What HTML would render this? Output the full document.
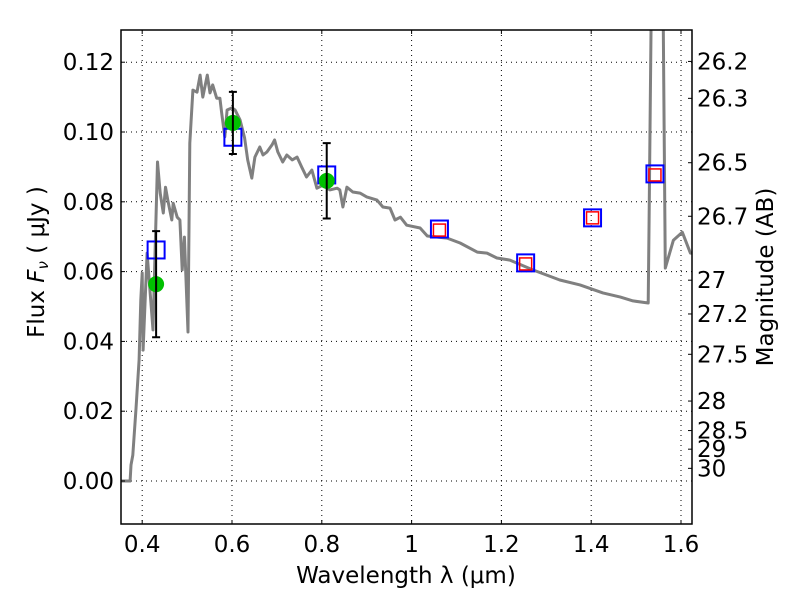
<!DOCTYPE html>
<html><head><meta charset="utf-8">
<style>
html,body{margin:0;padding:0;background:#fff;}
svg{display:block;font-family:"DejaVu Sans","Liberation Sans",sans-serif;}
</style></head>
<body>
<svg id="chart" width="800" height="600" viewBox="0 0 800 600" xmlns="http://www.w3.org/2000/svg">
<defs><clipPath id="plotclip"><rect x="121" y="30" width="571" height="494"/></clipPath></defs>
<rect x="0" y="0" width="800" height="600" fill="#fff"/>
<g id="grid"></g>
<g id="marks" clip-path="url(#plotclip)"></g>
<g id="axes"></g>
</svg>
<script>
const specWave = [0.354,0.373,0.375,0.379,0.386,0.393,0.397,0.400,0.402,0.411,0.424,0.434,0.440,0.447,0.452,0.457,0.466,0.469,0.478,0.484,0.489,0.494,0.502,0.506,0.513,0.522,0.529,0.535,0.545,0.551,0.557,0.566,0.573,0.577,0.584,0.589,0.600,0.607,0.618,0.628,0.635,0.644,0.651,0.662,0.669,0.678,0.689,0.695,0.702,0.713,0.722,0.734,0.745,0.755,0.766,0.778,0.789,0.803,0.818,0.834,0.840,0.847,0.856,0.869,0.885,0.900,0.923,0.936,0.952,0.963,0.975,0.989,1.019,1.035,1.079,1.108,1.146,1.168,1.190,1.219,1.270,1.330,1.375,1.426,1.465,1.493,1.527,1.529,1.534,1.547,1.560,1.565,1.583,1.603,1.621,1.625];
const specFlux = [0,0,0.0046,0.0074,0.0203,0.0347,0.0519,0.0596,0.0375,0.0653,0.0433,0.0914,0.0825,0.0768,0.0842,0.0805,0.0748,0.0796,0.0756,0.0748,0.0605,0.0699,0.0427,0.0968,0.1120,0.1114,0.1163,0.1100,0.1163,0.1112,0.1135,0.1097,0.1097,0.1054,0.0986,0.1063,0.1069,0.1063,0.1034,0.0983,0.0920,0.0868,0.0928,0.0957,0.0934,0.0943,0.0963,0.0977,0.0943,0.0914,0.0934,0.0920,0.0928,0.0900,0.0871,0.0891,0.0839,0.0848,0.0834,0.0839,0.0834,0.0785,0.0842,0.0828,0.0825,0.0814,0.0805,0.0785,0.0782,0.0748,0.0756,0.0733,0.0725,0.0702,0.0696,0.0682,0.0656,0.0653,0.0639,0.0633,0.0605,0.0576,0.0562,0.0539,0.0527,0.0516,0.0510,0.0748,0.14,0.3,0.14,0.0610,0.0690,0.0713,0.0653,0.0653];
const obsWave = [0.431,0.602,0.811];
const obsFlux = [0.0564,0.1026,0.0860];
const obsErr = [0.0152,0.0089,0.0108];
const modelWave = [0.431,0.602,0.811,1.062,1.254,1.403,1.542];
const modelFlux = [0.0662,0.0985,0.0877,0.0722,0.0625,0.0754,0.0880];
const fitWave = [1.062,1.254,1.403,1.542];
const fitFlux = [0.0719,0.0622,0.0754,0.0877];
const xTicks = [0.4,0.6,0.8,1.0,1.2,1.4,1.6];
const xTickLabels = ["0.4","0.6","0.8","1","1.2","1.4","1.6"];
const yTicks = [0,0.02,0.04,0.06,0.08,0.10,0.12];
const yTickLabels = ["0.00","0.02","0.04","0.06","0.08","0.10","0.12"];
const magTicks = [26.2,26.3,26.5,26.7,27,27.2,27.5,28,28.5,29,30];
const magTickLabels = ["26.2","26.3","26.5","26.7","27","27.2","27.5","28","28.5","29","30"];

const L=121,R=692,T=30,B=524;
const xMin=0.3528,xMax=1.6245,yMin=-0.01232,yMax=0.12923;
function sx(v){return L+(v-xMin)/(xMax-xMin)*(R-L);}
function sy(v){return B-(v-yMin)/(yMax-yMin)*(B-T);}
function magToFlux(m){return Math.pow(10,(23.9-m)/2.5);}
const NS="http://www.w3.org/2000/svg";
function mk(tag,attrs,parent){const e=document.createElementNS(NS,tag);for(const k in attrs)e.setAttribute(k,attrs[k]);parent.appendChild(e);return e;}
const grid=document.getElementById('grid'),marks=document.getElementById('marks'),axes=document.getElementById('axes');
const FS=23;

xTicks.forEach((v,i)=>{
  const x=sx(v);
  const g=mk('line',{x1:x,x2:x,y1:T,y2:B,stroke:'#000','stroke-width':1,'stroke-dasharray':'1,4'},grid);
  
  
  mk('line',{x1:x,x2:x,y1:B,y2:B-4,stroke:'#000','stroke-width':1},axes);
  mk('line',{x1:x,x2:x,y1:T,y2:T+4,stroke:'#000','stroke-width':1},axes);
  const t=mk('text',{x:x,y:B+28,'text-anchor':'middle','font-size':FS,fill:'#000'},axes);
  t.textContent=xTickLabels[i];
  
  
});
yTicks.forEach((v,i)=>{
  const y=sy(v);
  const g=mk('line',{x1:L,x2:R,y1:y,y2:y,stroke:'#000','stroke-width':1,'stroke-dasharray':'1,4'},grid);
  
  
  mk('line',{x1:L,x2:L+4,y1:y,y2:y,stroke:'#000','stroke-width':1},axes);
  const t=mk('text',{x:L-7,y:y+8,'text-anchor':'end','font-size':FS,fill:'#000'},axes);
  t.textContent=yTickLabels[i];
  
  
});
magTicks.forEach((m,i)=>{
  const y=sy(magToFlux(m));
  mk('line',{x1:R,x2:R-4,y1:y,y2:y,stroke:'#000','stroke-width':1},axes);
  const t=mk('text',{x:R+5,y:y+8,'text-anchor':'start','font-size':FS,fill:'#000'},axes);
  t.textContent=magTickLabels[i];
  
  
});

const pts=specWave.map((w,i)=>sx(w).toFixed(1)+','+sy(specFlux[i]).toFixed(1)).join(' ');
const sp=mk('polyline',{points:pts,fill:'none',stroke:'#808080','stroke-width':3,'stroke-linejoin':'round'},marks);



modelWave.forEach((w,i)=>{
  const x=sx(w),y=sy(modelFlux[i]);
  const r=mk('rect',{x:x-8.5,y:y-8.5,width:17,height:17,fill:'none',stroke:'#0000ff','stroke-width':2},marks);
  
  
});
fitWave.forEach((w,i)=>{
  const x=sx(w),y=sy(fitFlux[i]);
  const r=mk('rect',{x:x-6,y:y-6,width:12,height:12,fill:'none',stroke:'#ff0000','stroke-width':1.5},marks);
  
  
});
obsWave.forEach((w,i)=>{
  const x=sx(w),y=sy(obsFlux[i]),y1=sy(obsFlux[i]+obsErr[i]),y2=sy(obsFlux[i]-obsErr[i]);
  const c=mk('circle',{cx:x,cy:y,r:8,fill:'#00c000'},marks);
  
  
  const e=mk('path',{d:`M${x},${y1}V${y2}M${x-4},${y1}H${x+4}M${x-4},${y2}H${x+4}`,stroke:'#000','stroke-width':2,fill:'none'},marks);
  
  
});

const frame=mk('rect',{x:L,y:T,width:R-L,height:B-T,fill:'none',stroke:'#000','stroke-width':1.5},axes);



const xl=mk('text',{x:406,y:583,'text-anchor':'middle','font-size':FS,fill:'#000'},axes);
xl.textContent='Wavelength  λ (μm)';


const yl=mk('text',{x:0,y:0,transform:'translate(44,262) rotate(-90)','text-anchor':'middle','font-size':FS,fill:'#000'},axes);
yl.innerHTML='Flux  <tspan font-style="italic">F</tspan><tspan font-style="italic" font-size="15" dy="4">ν</tspan><tspan dy="-4">  (  μJy )</tspan>';


const rl=mk('text',{x:0,y:0,transform:'translate(773,277) rotate(-90)','text-anchor':'middle','font-size':FS,fill:'#000'},axes);
rl.textContent='Magnitude (AB)';


</script>
</body></html>
